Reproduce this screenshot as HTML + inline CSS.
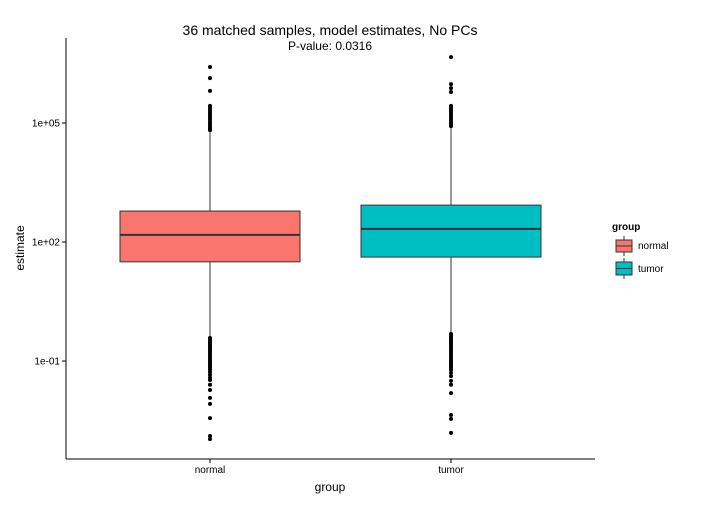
<!DOCTYPE html>
<html><head><meta charset="utf-8"><style>
body{margin:0;background:#fff}
svg text{font-family:"Liberation Sans",Arial,sans-serif}
</style></head><body>
<svg id="chart" width="707" height="504" xmlns="http://www.w3.org/2000/svg">
<rect width="707" height="504" fill="#fff"/>
<text x="330" y="35" font-size="14" text-anchor="middle" fill="#000">36 matched samples, model estimates, No PCs</text>
<text x="330" y="50" font-size="12" text-anchor="middle" fill="#000">P-value: 0.0316</text>
<g id="plot"></g>
<line x1="66" y1="38" x2="66" y2="459" stroke="#000" stroke-width="1"/>
<line x1="66" y1="459" x2="595" y2="459" stroke="#000" stroke-width="1"/>
<g id="yticks"></g>
<g id="xticks"></g>
<text x="330" y="491" font-size="12" text-anchor="middle">group</text>
<text transform="translate(24,248) rotate(-90)" font-size="12" text-anchor="middle">estimate</text>
<g>
<text x="612" y="230" font-size="10" font-weight="bold">group</text>
<g>
<line x1="624" y1="236" x2="624" y2="256" stroke="#333"/>
<rect x="616" y="240" width="16" height="12" fill="#F8766D" stroke="#333"/>
<line x1="616" y1="246" x2="632" y2="246" stroke="#333"/>
<text x="638" y="249" font-size="10">normal</text></g>
<g>
<line x1="624" y1="258" x2="624" y2="279" stroke="#333"/>
<rect x="616" y="262" width="16" height="13" fill="#00BFC4" stroke="#333"/>
<line x1="616" y1="268.5" x2="632" y2="268.5" stroke="#333"/>
<text x="638" y="272" font-size="10">tumor</text></g>
</g>
</svg>
<script>
const categories=["normal","tumor"];
const fills=["#F8766D","#00BFC4"];
// log10 values
const q1=[1.50,1.62];
const medians=[2.18,2.33];
const q3=[2.78,2.93];
const whiskerLow=[-0.39,-0.29];
const whiskerHigh=[4.77,4.87];
const outliersNormal=[6.41,6.13,5.81,5.43,5.38,5.33,5.28,5.23,5.18,5.13,5.08,5.02,4.97,4.92,4.87,4.82,
-0.42,-0.47,-0.52,-0.57,-0.62,-0.67,-0.72,-0.77,-0.82,-0.87,-0.92,-0.97,-1.02,-1.07,-1.12,-1.17,-1.22,-1.28,-1.35,-1.42,-1.48,-1.60,-1.73,-1.93,-2.08,-2.44,-2.89,-2.97];
const outliersTumor=[6.66,5.98,5.88,5.78,5.43,5.38,5.33,5.28,5.23,5.18,5.13,5.08,5.02,4.97,4.92,
-0.32,-0.37,-0.42,-0.47,-0.52,-0.57,-0.62,-0.67,-0.72,-0.77,-0.82,-0.87,-0.92,-0.97,-1.02,-1.07,-1.12,-1.17,-1.22,-1.30,-1.38,-1.50,-1.60,-1.81,-2.36,-2.46,-2.81];
const yTickVals=[5,2,-1];
const yTickLabels=["1e+05","1e+02","1e-01"];
const NS="http://www.w3.org/2000/svg";
function y(v){return 242-(v-2)*39.67;}
function x(i){return 210+i*241;}
const halfW=90;
function mk(tag,attrs,parent){const e=document.createElementNS(NS,tag);for(const k in attrs)e.setAttribute(k,attrs[k]);parent.appendChild(e);return e;}
const plot=document.getElementById('plot');
const outs=[outliersNormal,outliersTumor];
categories.forEach((c,i)=>{
 const g=mk('g',{},plot);
 
 
 const w=mk('line',{x1:x(i),x2:x(i),y1:y(whiskerHigh[i]),y2:y(whiskerLow[i]),stroke:'#333','stroke-width':1},g);
 
 
 const r=mk('rect',{x:x(i)-halfW,y:y(q3[i]),width:2*halfW,height:y(q1[i])-y(q3[i]),fill:fills[i],stroke:'#333','stroke-width':1},g);
 
 
 const m=mk('line',{x1:x(i)-halfW,x2:x(i)+halfW,y1:y(medians[i]),y2:y(medians[i]),stroke:'#333','stroke-width':2},g);
 
 
 outs[i].forEach(v=>{
  const p=mk('circle',{cx:x(i),cy:y(v),r:2,fill:'#000'},g);
  
  
 });
});
const yt=document.getElementById('yticks');
yTickVals.forEach((v,i)=>{
 const l=mk('line',{x1:62,x2:66,y1:y(v),y2:y(v),stroke:'#000'},yt);
 
 
 const t=mk('text',{x:60,y:y(v)+3.5,'font-size':10,'text-anchor':'end'},yt);
 t.textContent=yTickLabels[i];
 
 
});
const xt=document.getElementById('xticks');
categories.forEach((c,i)=>{
 const l=mk('line',{x1:x(i),x2:x(i),y1:459,y2:463,stroke:'#000'},xt);
 
 
 const t=mk('text',{x:x(i),y:473,'font-size':10,'text-anchor':'middle'},xt);
 t.textContent=c;
 
 
});
</script>
</body></html>
